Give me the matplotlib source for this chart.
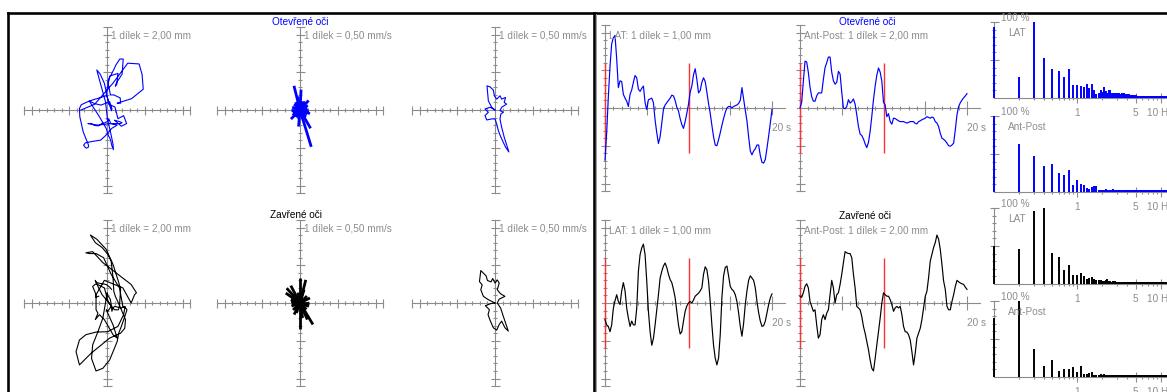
import numpy as np
import matplotlib
matplotlib.use("Agg")
import matplotlib.pyplot as plt

plt.rcParams['font.family'] = ['Liberation Sans', 'DejaVu Sans']

# time base of the records (s), one reading every 0.2 s
t = np.linspace(0, 20, 101)

# centre of pressure, eyes open (mm)
lat_open = [-6.9, -3.3, 1.5, 5.5, 8.5, 9.3, 9.6, 6.5, 2.7, 3.6,
            3.5, 1.8, 1.3, 0.9, 0.2, 1.8, 2.4, 3.4, 4.3, 4.0,
            2.5, 2.2, 2.6, 2.9, 0.7, -0.2, 1.1, 1.2, 1.3, 0.7,
            -1.6, -3.3, -4.7, -3.8, -2.0, -0.2, 0.4, 0.7, 1.0, 1.3,
            1.7, 1.6, 1.0, 0.1, -0.4, -1.4, -2.2, -2.7, -1.8, -0.7,
            0.5, 2.1, 2.9, 4.4, 5.2, 3.8, 2.0, 2.3, 3.4, 4.0,
            3.5, 2.1, 0.6, -0.7, -2.3, -3.8, -4.9, -5.0, -4.2, -3.3,
            -2.3, -1.4, -0.6, 0.0, 0.2, 0.2, 0.0, 0.2, 0.3, 0.4,
            0.6, 1.0, 2.7, 1.2, -0.3, -1.7, -3.8, -5.7, -6.2, -5.7,
            -5.4, -4.9, -4.9, -6.3, -7.2, -7.3, -6.8, -5.3, -3.7, -2.0,
            -0.2]
ap_open = [0.0, 1.5, 7.0, 12.4, 12.2, 9.4, 5.5, 3.0, 1.8, 1.8,
           3.2, 4.0, 4.0, 4.0, 7.6, 10.7, 12.0, 13.5, 13.5, 9.5,
           7.2, 6.3, 6.8, 9.7, 9.0, 4.2, 0.0, -0.2, 0.4, 2.2,
           1.3, 1.7, 2.4, 1.0, -1.8, -4.9, -6.9, -7.3, -8.2, -9.5,
           -10.5, -9.1, -6.2, -2.2, 2.2, 5.8, 8.7, 10.6, 9.5, 7.1,
           1.5, 0.8, -2.3, -1.5, -3.6, -4.3, -2.7, -2.8, -3.1, -3.4,
           -3.6, -3.6, -3.6, -3.8, -4.0, -3.8, -3.6, -3.6, -3.6, -4.1,
           -4.2, -3.6, -3.4, -3.1, -2.9, -2.7, -2.3, -2.5, -2.7, -2.4,
           -2.6, -3.6, -4.0, -4.9, -6.7, -8.0, -8.3, -8.7, -9.3, -10.0,
           -10.1, -9.8, -9.3, -5.8, -1.8, 0.4, 1.4, 2.1, 2.7, 3.2,
           3.8]

# centre of pressure, eyes closed (mm)
lat_closed = [-2.2, -2.9, -3.1, -3.8, -2.9, -0.7, 0.3, 1.1, 0.2, -0.2,
              1.6, 2.7, 1.6, -0.7, -2.0, -3.1, -2.4, -2.9, -2.9, -0.7,
              4.2, 6.4, 7.3, 7.8, 6.4, 2.9, -1.1, -3.8, -5.6, -4.7,
              -2.9, -0.9, 1.1, 3.3, 4.2, 4.9, 5.3, 4.7, 3.8, 3.1,
              2.7, 1.8, 0.7, -1.1, -2.9, -4.1, -3.8, -2.4, -1.1, -0.4,
              0.0, 0.2, 0.0, 0.4, 0.9, 1.1, 1.3, 1.6, 2.0, 3.8,
              4.8, 4.4, 2.9, 0.2, -2.9, -5.6, -7.3, -8.2, -7.3, -4.2,
              0.7, 3.6, 4.7, 4.9, 3.6, 2.2, 1.8, 1.6, 1.1, 0.2,
              -1.3, -3.1, -4.4, -2.7, -0.2, 1.6, 3.0, 3.6, 3.3, 3.0,
              2.0, 0.2, -1.3, -2.4, -3.1, -3.0, -2.4, -1.3, -0.2, 0.7,
              1.2]
ap_closed = [1.8, 1.5, 2.7, 4.4, 5.1, 4.0, 0.4, -0.9, -2.2, -1.8,
             -5.8, -9.3, -8.4, -4.4, -3.1, -4.4, -2.7, -1.8, 2.2, 6.0,
             4.0, 0.0, 2.2, 2.7, 4.9, 7.6, 10.7, 13.6, 13.3, 13.1,
             13.1, 12.0, 7.6, 4.0, -0.9, -1.3, -1.8, -3.6, -6.2, -8.0,
             -10.2, -12.4, -15.1, -17.3, -18.0, -14.7, -11.1, -7.6, -4.0, 0.0,
             2.7, 2.2, 1.8, 1.8, 0.9, -0.4, -2.2, -1.3, -0.9, -1.3,
             -0.9, -3.1, -6.2, -7.6, -7.7, -8.4, -9.8, -12.9, -16.4, -13.3,
             -9.3, -8.0, -6.7, -4.4, -1.3, 1.8, 3.1, 6.7, 11.1, 12.9,
             14.7, 16.0, 18.0, 16.9, 14.2, 10.2, 5.8, 3.6, -0.9, -1.8,
             -1.8, 0.4, 2.2, 4.4, 6.0, 5.6, 5.3, 5.1, 4.9, 4.2,
             3.6]

window_marks = [0, 10]   # s, red marks of the 10 s windows

# velocity star (direction deg, size mm/s)
spk_ang_open = [104, 87, -73, -135, 48, -20, 160, 30, -95, 0, 15, 60, 75,
                120, 135, 180, 200, 215, 240, 260, 290, 310, 330, 345, -60, 100]
spk_len_open = [1.65, 1.35, 2.55, 0.85, 0.85, 0.7, 0.55, 0.6, 1.1, 0.55, 0.5, 0.65, 0.6,
                0.6, 0.55, 0.6, 0.5, 0.6, 0.55, 0.6, 0.65, 0.6, 0.55, 0.6, 1.4, 0.9]
spk_ang_closed = [90, 76, 118, 132, 145, 27, -20, -59, -90, -66, -117, 190, 160,
                  73, 0, 45, 100, 200, 225, 250, 300, 315, 340, 170, -80]
spk_len_closed = [1.64, 1.58, 1.3, 1.32, 1.15, 0.74, 0.63, 1.66, 1.75, 1.2, 0.86, 0.55, 0.65,
                  0.92, 0.6, 0.65, 0.7, 0.6, 0.65, 0.7, 0.7, 0.6, 0.55, 0.6, 1.0]

# velocity outline (mm/s)
vx_open = [0, -0.22, -0.44, -0.53, -0.33, -0.11, -0.04, 0.11, 0.33, 0.44, 0.70, 0.61, 0.77,
           0.44, 0.33, 0.55, 0.39, 0.33, 0.44, 0.61, 0.92, 0.70, 0.39, 0.22, 0.11, 0,
           -0.22, -0.55, -0.66, -0.44, -0.66, -0.33, -0.11]
vy_open = [0, 0.18, 0.61, 1.60, 1.53, 1.32, 0.94, 0.72, 0.94, 0.72, 0.83, 0.50, 0.39,
           0.18, -0.04, -0.15, -0.26, -0.59, -1.14, -1.80, -2.78, -2.46, -1.80, -1.36, -0.92, -0.59,
           -0.59, -0.66, -0.37, -0.15, 0.07, 0.18, 0.07]
vx_closed = [0, -0.44, -0.77, -0.94, -0.85, -1.03, -0.94, -0.59, -0.50, -0.26, -0.15, 0,
             0.15, 0.28, 0.15, 0.37, 0.66, 0.28, 0.15, 0.37, 0.55, 0.88, 0.66, 0.44,
             0.28, 0.11, -0.11, -0.33, -0.46, -0.37, -0.64, -0.28]
vy_closed = [0, 0.22, 0.44, 0.88, 1.20, 1.42, 2.15, 1.80, 1.49, 1.40, 1.62, 1.32,
             1.53, 1.32, 0.88, 0.61, 0.44, 0.26, 0, -0.33, -0.88, -1.86, -1.64, -1.20,
             -1.42, -1.80, -1.64, -1.14, -0.77, -0.44, -0.18, -0.04]

# spectra (% of max), 0.1 .. 11.9 Hz
freqs = np.round(np.arange(1, 120) * 0.1, 1)
spec_lat_open = [93, 27, 100, 52, 38, 36, 27, 38, 17, 17,
                 16, 15, 19, 13, 19, 10, 5, 6, 11, 8,
                 14, 9, 7, 10, 11, 6, 7, 6, 5, 6,
                 5, 6, 5, 6, 5, 6, 5, 4, 5, 4,
                 4, 5, 4, 4, 4, 3, 4, 4, 3, 4,
                 3, 3, 3, 3, 3, 3, 3, 3, 3, 3,
                 3, 2, 3, 3, 2, 3, 2, 3, 2, 2,
                 2, 3, 2, 2, 2, 2, 3, 2, 2, 2,
                 2, 2, 2, 2, 3, 2, 2, 2, 2, 2,
                 2, 2, 2, 2, 2, 2, 2, 2, 2, 2,
                 2, 2, 2, 2, 2, 2, 2, 2, 2, 2,
                 2, 2, 2, 2, 2, 2, 2, 2, 2]
spec_ap_open = [100, 63, 47, 34, 37, 25, 22, 29, 9, 16,
                10, 9, 5, 4, 7, 8, 8, 3, 3, 3,
                3, 4, 3, 3, 3, 3, 4, 3, 3, 2,
                3, 3, 2, 3, 2, 3, 2, 2, 3, 2,
                2, 2, 3, 2, 2, 2, 2, 2, 2, 2,
                2, 2, 2, 2, 2, 2, 2, 2, 2, 2,
                2, 2, 2, 2, 2, 2, 2, 2, 2, 2,
                2, 2, 2, 2, 2, 2, 2, 2, 2, 2,
                2, 2, 2, 2, 2, 2, 2, 2, 2, 2,
                2, 2, 2, 2, 2, 2, 2, 2, 2, 2,
                2, 2, 2, 2, 2, 2, 2, 2, 2, 2,
                2, 2, 2, 2, 2, 2, 2, 2, 2]
spec_lat_closed = [50, 46, 96, 100, 41, 36, 19, 25, 12, 12,
                   14, 10, 7, 8, 9, 6, 5, 5, 5, 4,
                   4, 5, 7, 4, 4, 3, 4, 4, 3, 3,
                   3, 3, 3, 2, 3, 3, 2, 3, 2, 2,
                   2, 2, 2, 2, 2, 2, 2, 2, 2, 2,
                   2, 2, 2, 2, 2, 2, 2, 2, 2, 2,
                   2, 2, 2, 2, 2, 2, 2, 2, 2, 2,
                   2, 2, 2, 2, 2, 2, 2, 2, 2, 2,
                   2, 2, 2, 2, 2, 2, 2, 2, 2, 2,
                   2, 2, 2, 2, 2, 2, 2, 2, 2, 2,
                   2, 2, 2, 2, 2, 2, 2, 2, 2, 2,
                   2, 2, 2, 2, 2, 2, 2, 2, 2]
spec_ap_closed = [77, 100, 37, 15, 22, 8, 10, 10, 13, 7,
                  15, 4, 4, 5, 7, 3, 3, 3, 4, 3,
                  4, 3, 3, 2, 2, 3, 2, 2, 2, 2,
                  2, 2, 2, 2, 2, 2, 2, 2, 2, 2,
                  2, 2, 2, 2, 2, 2, 2, 2, 2, 2,
                  2, 2, 2, 2, 2, 2, 2, 2, 2, 2,
                  2, 2, 2, 2, 2, 2, 2, 2, 2, 2,
                  2, 2, 2, 2, 2, 2, 2, 2, 2, 2,
                  2, 2, 2, 2, 2, 2, 2, 2, 2, 2,
                  2, 2, 2, 2, 2, 2, 2, 2, 2, 2,
                  2, 2, 2, 2, 2, 2, 2, 2, 2, 2,
                  2, 2, 2, 2, 2, 2, 2, 2, 2]

W, H = 1167, 392
PX = 7.55     # px per division
PX_S = 8.35   # px per second
PT = 0.72     # points per px
GRAY = "#8c8c8c"
BLUE = "#0000ff"
RED = "#ff3030"
FS = 7.2

fig = plt.figure(figsize=(W / 100, H / 100), dpi=100)


def box(x, y, w, h):
    ax = fig.add_axes([x / W, 1 - (y + h) / H, w / W, h / H])
    ax.set_axis_off()
    return ax


def label(ax, txt, dx, dy, xy=(0, 0), color=GRAY, ha='left'):
    ax.annotate(txt, xy=xy, xytext=(dx * PT, -dy * PT), textcoords='offset points',
                color=color, fontsize=FS, ha=ha, va='center', annotation_clip=False)


def ticks(ax, xs, ys, marker, size):
    ax.plot(xs, ys, ls='none', marker=marker, ms=size * PT, mew=0.8, color=GRAY, clip_on=False)


def div_ticks(ax, step, vertical):
    n = np.arange(-11, 12)
    n = n[n != 0]
    big = (n % 5 == 0) | (abs(n) == 11)
    for sel, size in ((~big, 5), (big, 9)):
        v = n[sel] * step
        if vertical:
            ticks(ax, 0 * v, v, '_', size)
        else:
            ticks(ax, v, 0 * v, '|', size)


def xy_panel(cx, cy, step, unit):
    lim = 95 / PX * step
    ax = box(cx - 95, cy - 95, 190, 190)
    ax.set_xlim(-lim, lim)
    ax.set_ylim(-lim, lim)
    ax.plot([-11 * step, 11 * step], [0, 0], color=GRAY, lw=0.8)
    ax.plot([0, 0], [-11 * step, 11 * step], color=GRAY, lw=0.8)
    div_ticks(ax, step, False)
    div_ticks(ax, step, True)
    label(ax, "1 dílek = " + unit, 4, -75)
    return ax


def ts_panel(x0, y0, step, text, series, color):
    ax = box(x0 - 5, y0 - 90, 190, 180)
    ax.set_xlim(-5 / PX_S, 185 / PX_S)
    ax.set_ylim(-90 / PX * step, 90 / PX * step)
    ax.plot([-0.3, 21.6], [0, 0], color=GRAY, lw=0.8)
    ax.plot([0, 0], [-11 * step, 11 * step], color=GRAY, lw=0.8)
    sec = np.arange(1, 21)
    big = sec % 5 == 0
    ticks(ax, sec[~big], 0 * sec[~big], '|', 5)
    ticks(ax, sec[big], 0 * sec[big], '|', 14)
    div_ticks(ax, step, True)
    ax.vlines(window_marks, -6 * step, 6 * step, color=RED, lw=1.0)
    ax.plot(t, series, color=color, lw=0.85)
    label(ax, text, 4, -73)
    label(ax, "20 s", 0, 20, xy=(20, 0))
    return ax


def spec_panel(y0, vals, name, color):
    ax = box(985, y0 - 84, 182, 90)
    ax.set_xscale('log')
    lo, hi = 0.1 * 10 ** (-9 / 83.3), 0.1 * 10 ** (173 / 83.3)
    ax.set_xlim(lo, hi)
    ax.set_ylim(-6 / 0.76, 84 / 0.76)
    ax.plot([0.1, hi], [0, 0], color=GRAY, lw=0.8)
    ax.plot([0.1, 0.1], [0, 100], color=GRAY, lw=0.8)
    ft = np.array([0.2, 0.3, 0.4, 0.5, 0.6, 0.7, 0.8, 0.9, 2, 3, 4, 6, 7, 8, 9])
    ticks(ax, ft, 0 * ft, '|', 5)
    ticks(ax, [1, 5, 10], [0, 0, 0], '|', 10)
    yt = np.array([10, 20, 30, 40, 60, 70, 80, 90])
    ticks(ax, 0 * yt + 0.1, yt, '_', 5)
    ticks(ax, [0.1, 0.1], [50, 100], '_', 9)
    ax.vlines(freqs, 0, vals, color=color, lw=1.4)
    label(ax, "100 %", 7, -4, xy=(0.1, 100))
    label(ax, name, 14, 11, xy=(0.1, 100))
    for f, s in ((1, "1"), (5, "5"), (10, "10 Hz")):
        label(ax, s, 0, 15, xy=(f, 0), ha='center')
    return ax


def spikes(ax, ang, length, color):
    a = np.radians(ang)
    L = np.asarray(length)
    for xe, ye in zip(L * np.cos(a), L * np.sin(a)):
        ax.plot([0, xe], [0, ye], color=color, lw=2.0, solid_capstyle='butt')


def outline(ax, vx, vy, color):
    ax.plot(np.r_[vx, vx[0]], np.r_[vy, vy[0]], color=color, lw=0.8)


# frame
bg = fig.add_axes([0, 0, 1, 1])
bg.set_xlim(0, W)
bg.set_ylim(H, 0)
bg.set_axis_off()
bg.plot([8, W], [13.3, 13.3], color='black', lw=2.6 * PT)
bg.plot([8.3, 8.3], [13, H], color='black', lw=2.6 * PT)
bg.plot([593.5, 593.5], [13, H], color='black', lw=2.6 * PT)
bg.plot([596.3, 596.3], [14, H], color='#a0a0a0', lw=1.0 * PT)

rows = [(110, BLUE, lat_open, ap_open, spk_ang_open, spk_len_open, vx_open, vy_open),
        (303, 'black', lat_closed, ap_closed, spk_ang_closed, spk_len_closed, vx_closed, vy_closed)]

for cy, col, lat, ap, sa, sl, vx, vy in rows:
    ax = xy_panel(107, cy, 2.0, "2,00 mm")
    ax.plot(lat, ap, color=col, lw=0.8)
    ax = xy_panel(300, cy, 0.5, "0,50 mm/s")
    spikes(ax, sa, sl, col)
    ax = xy_panel(495, cy, 0.5, "0,50 mm/s")
    outline(ax, vx, vy, col)
    ts_panel(605, cy - 2 if cy == 110 else cy, 1.0, "LAT: 1 dílek = 1,00 mm", lat, col)
    ts_panel(800, cy - 2 if cy == 110 else cy, 2.0, "Ant-Post: 1 dílek = 2,00 mm", ap, col)

spec_panel(98, spec_lat_open, "LAT", BLUE)
spec_panel(192, spec_ap_open, "Ant-Post", BLUE)
spec_panel(284, spec_lat_closed, "LAT", 'black')
spec_panel(377, spec_ap_closed, "Ant-Post", 'black')

for x, y, s, c in ((300, 21.7, "Otevřené oči", BLUE), (867, 21.7, "Otevřené oči", BLUE),
                   (296, 215, "Zavřené oči", 'black'), (865, 216, "Zavřené oči", 'black')):
    fig.text(x / W, 1 - y / H, s, color=c, fontsize=FS, ha='center', va='center')

fig.savefig("out.png", dpi=100)
